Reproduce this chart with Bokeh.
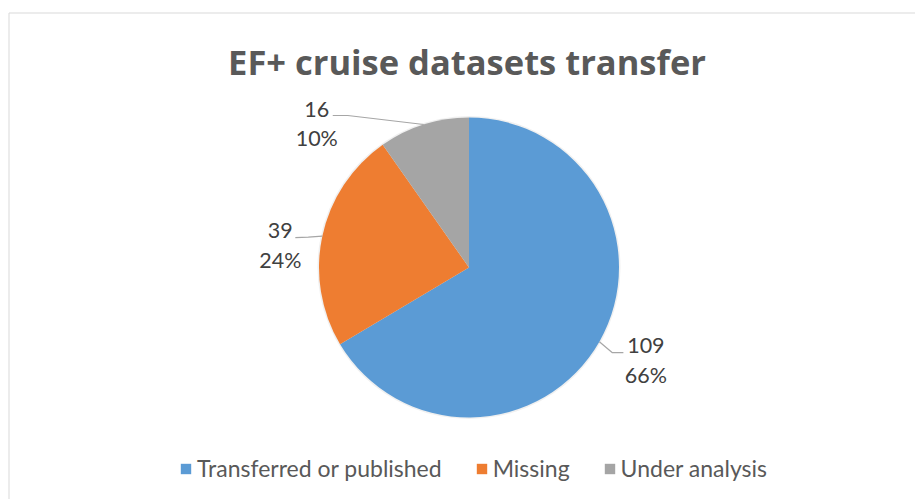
import math
from bokeh.plotting import figure
from bokeh.models import Range1d, Legend, LegendItem, ColumnDataSource
from bokeh.core.properties import value
from bokeh.embed import file_html
from bokeh.resources import INLINE

# ---- data ----
title = "EF+ cruise datasets transfer"
categories = ["Transferred or published", "Missing", "Under analysis"]
counts = [109, 39, 16]
colors = ["#5b9bd5", "#ee7d31", "#a5a5a5"]

# ---- layout constants (figure pixel space, y up) ----
W, H = 915, 499
CX, CY, R = 468.5, 232.0, 150.0
FONT = "Lato"
# label offsets from slice mid-edge point (dx, dy) for the value line baseline
label_off = [(46.5, -4.0), (-42.0, 5.5), (-107.0, 15.0)]
# leader-line elbow offsets relative to edge point, and end offsets
elbow_off = [(13.0, -11.0), (-14.0, -1.0), (-76.0, 9.0)]
end_off = [(24.0, -11.0), (-27.0, -1.5), (-91.0, 9.0)]

p = figure(width=W, height=H, output_backend="svg", toolbar_location=None,
           x_range=Range1d(0, W), y_range=Range1d(0, H),
           min_border=0, x_axis_location=None, y_axis_location=None)
p.grid.visible = False
p.outline_line_color = None
p.background_fill_color = "white"
p.border_fill_color = "white"

# chart border (top and left visible in the crop)
p.segment(x0=[8.5, 8.5], y0=[H - 12.5, 0], x1=[W, 8.5], y1=[H - 12.5, H - 12.5],
          line_color="#d9d9d9", line_width=1)

# title
p.text(x=[466.5], y=[438], text=[title], text_font=value("Open Sans"),
       text_font_style="bold", text_font_size="34.5px", text_color="#595959",
       text_align="center", text_baseline="alphabetic")

total = sum(counts)
starts, ends, mids = [], [], []
cum = 0
for c in counts:
    a0 = math.pi / 2 - 2 * math.pi * cum / total
    cum += c
    a1 = math.pi / 2 - 2 * math.pi * cum / total
    starts.append(a0)
    ends.append(a1)
    mids.append((a0 + a1) / 2)

src = ColumnDataSource(dict(cat=categories, start=starts, end=ends, color=colors,
                            x=[CX] * 3, y=[CY] * 3))
# soft shadow ring
p.circle(x=[CX], y=[CY], radius=R + 1.5, fill_color="#ececec", line_color=None, fill_alpha=0.8)
wr = p.wedge(x="x", y="y", radius=R, start_angle="start", end_angle="end",
             direction="clock", fill_color="color", line_color=None, source=src)

# leader lines and labels
xs, ys = [], []
lx, ly_v, ly_p, vtxt, ptxt = [], [], [], [], []
for i, c in enumerate(counts):
    ex = CX + R * math.cos(mids[i])
    ey = CY + R * math.sin(mids[i])
    xs.append([ex, ex + elbow_off[i][0], ex + end_off[i][0]])
    ys.append([ey, ey + elbow_off[i][1], ey + end_off[i][1]])
    lx.append(ex + label_off[i][0])
    ly_v.append(ey + label_off[i][1])
    ly_p.append(ey + label_off[i][1] - 29)
    vtxt.append(str(c))
    ptxt.append(f"{round(100 * c / total)}%")

p.multi_line(xs=xs, ys=ys, line_color="#a6a6a6", line_width=1.2)
p.text(x=lx, y=ly_v, text=vtxt, text_font=value(FONT), text_font_size="21.5px",
       text_color="#404040", text_align="center", text_baseline="alphabetic")
p.text(x=lx, y=ly_p, text=ptxt, text_font=value(FONT), text_font_size="21.5px",
       text_color="#404040", text_align="center", text_baseline="alphabetic")

legend = Legend(items=[LegendItem(label=categories[i], renderers=[wr], index=i) for i in range(3)],
                orientation="horizontal", location=(179, 17),
                glyph_width=13, glyph_height=13, label_standoff=5, spacing=33,
                padding=0, margin=0, border_line_color=None, background_fill_alpha=0,
                label_text_font=FONT, label_text_font_size="23px", label_text_color="#595959")
p.add_layout(legend, "center")

html = file_html(p, INLINE)
html = html.replace("</head>", "<style>html,body{margin:0;padding:0;overflow:hidden;}</style></head>", 1)
open("out.html", "w").write(html)
